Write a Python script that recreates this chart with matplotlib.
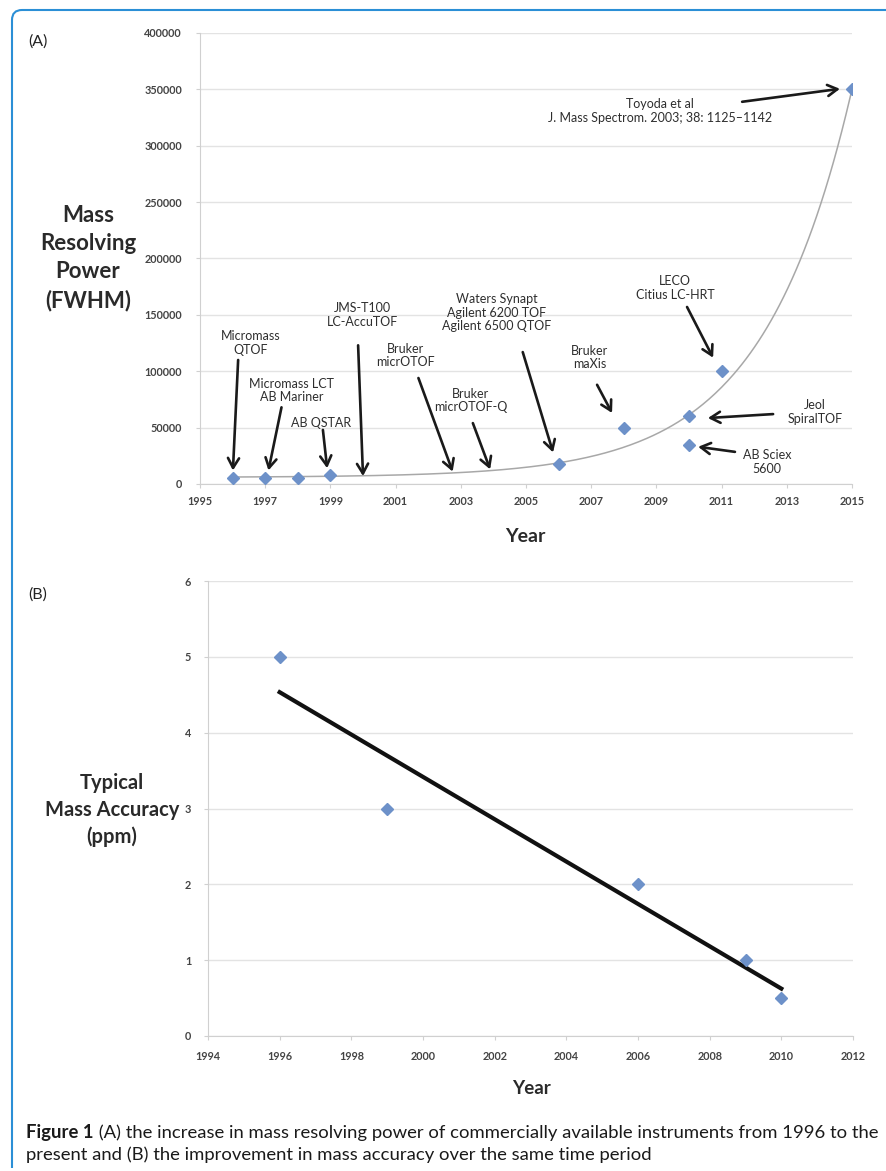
import numpy as np
import matplotlib.pyplot as plt
from matplotlib.path import Path
from matplotlib.patches import PathPatch

plt.rcParams['font.family'] = ['Lato', 'DejaVu Sans']

# panel A: mass resolving power (FWHM) by year
years_a = [1996, 1997, 1998, 1999, 2006, 2008, 2010, 2010, 2011, 2015]
power_a = [5000, 5000, 5000, 8000, 18000, 50000, 60000, 35000, 100000, 350000]

# panel B: typical mass accuracy (ppm) by year
years_b = [1996, 1999, 2006, 2009, 2010]
accuracy_b = [5, 3, 2, 1, 0.5]

# instrument labels: text, text centre, arrow tail, arrow head (data coords)
labels_a = [
    ("Micromass\nQTOF", (1996.55, 125000), (1996.17, 110000), (1996.01, 12000)),
    ("Micromass LCT\nAB Mariner", (1997.8, 83000), (1997.5, 68000), (1997.1, 12000)),
    ("AB QSTAR", (1998.7, 54000), (1998.77, 48000), (1998.9, 14000)),
    ("JMS-T100\nLC-AccuTOF", (1999.97, 150000), (1999.85, 123000), (2000.0, 7000)),
    ("Bruker\nmicrOTOF", (2001.3, 114000), (2001.7, 94000), (2002.75, 11000)),
    ("Bruker\nmicrOTOF-Q", (2003.3, 74000), (2003.37, 54000), (2003.9, 13000)),
    ("Waters Synapt\nAgilent 6200 TOF\nAgilent 6500 QTOF", (2004.1, 152000), (2004.9, 117000), (2005.83, 28000)),
    ("Bruker\nmaXis", (2006.95, 112000), (2007.18, 88000), (2007.64, 63000)),
    ("LECO\nCitius LC-HRT", (2009.57, 174000), (2009.94, 157000), (2010.74, 112000)),
    ("Jeol\nSpiralTOF", (2013.87, 64000), (2012.58, 62000), (2010.58, 58500)),
    ("AB Sciex\n5600", (2012.4, 19500), (2011.41, 28500), (2010.28, 33000)),
    ("Toyoda et al\nJ. Mass Spectrom. 2003; 38: 1125\u20131142", (2009.1, 331000), (2011.63, 339000), (2014.63, 350500)),
]

W, H = 886, 1171
fig = plt.figure(figsize=(W / 100, H / 100), dpi=100)

marker_col = '#6d91c9'
grid_col = '#e3e3e3'
tick_col = '#444444'
label_col = '#2a2a2a'


def style_axes(ax):
    for s in ['top', 'right']:
        ax.spines[s].set_visible(False)
    for s in ['left', 'bottom']:
        ax.spines[s].set_color('#d0d0d0')
    ax.grid(axis='y', color=grid_col, linewidth=1)
    ax.set_axisbelow(True)
    ax.tick_params(axis='both', colors='#d0d0d0', labelcolor=tick_col, labelsize=7.8, length=3)
    for t in ax.get_xticklabels() + ax.get_yticklabels():
        t.set_fontweight('bold')


# ---- panel A ----
ax1 = fig.add_axes([200 / W, 1 - 484 / H, 652 / W, 451 / H])
ax1.set_xlim(1995, 2015)
ax1.set_ylim(0, 400000)
ax1.set_xticks(range(1995, 2016, 2))
ax1.set_yticks(range(0, 400001, 50000))
ax1.tick_params(axis='y', pad=10, length=0)
ax1.tick_params(axis='x', pad=6)
style_axes(ax1)

# growth trend: least-squares fit of a + b*exp(k*t), k picked on a grid
xa = np.array(years_a, dtype=float)
ya = np.array(power_a, dtype=float)
ta = xa - 2005
best = None
for k in np.linspace(0.05, 0.6, 551):
    A = np.column_stack([np.ones_like(ta), np.exp(k * ta)])
    sol, res, _, _ = np.linalg.lstsq(A, ya, rcond=None)
    err = np.sum((A @ sol - ya) ** 2)
    if best is None or err < best[0]:
        best = (err, k, sol)
_, k_fit, (a_fit, b_fit) = best
xs = np.linspace(1996, 2015, 300)
ax1.plot(xs, a_fit + b_fit * np.exp(k_fit * (xs - 2005)), color='#a8a8a8', linewidth=1.1, zorder=2)
ax1.plot(years_a, power_a, 'D', color=marker_col, markersize=6, zorder=3)

for txt, pos, tail, head in labels_a:
    ax1.text(pos[0], pos[1], txt, ha='center', va='center', fontsize=9,
             color='#2e2e2e', linespacing=1.15)
    ax1.annotate('', xy=head, xytext=tail,
                 arrowprops=dict(arrowstyle='->,head_length=0.7,head_width=0.4',
                                 color='#1a1a1a', lw=1.9, shrinkA=0, shrinkB=0))

fig.text(28 / W, 1 - 42 / H, '(A)', fontsize=11.5, ha='left', va='center', color='#222222')
fig.text(88 / W, 1 - 258 / H, 'Mass\nResolving\nPower\n(FWHM)', fontsize=16, fontweight='bold',
         ha='center', va='center', color=label_col, linespacing=1.42)
fig.text(525 / W, 1 - 536 / H, 'Year', fontsize=14, fontweight='bold',
         ha='center', va='center', color=label_col)

# ---- panel B ----
ax2 = fig.add_axes([208 / W, 1 - 1036 / H, 645 / W, 455 / H])
ax2.set_xlim(1994, 2012)
ax2.set_ylim(0, 6)
ax2.set_xticks(range(1994, 2013, 2))
ax2.set_yticks(range(0, 7))
ax2.tick_params(axis='y', pad=9, length=0)
ax2.tick_params(axis='x', pad=8)
style_axes(ax2)

xb = np.array(years_b, dtype=float)
yb = np.array(accuracy_b, dtype=float)
m, c = np.polyfit(xb, yb, 1)
xl = np.array([xb.min(), xb.max()])
ax2.plot(xl, m * xl + c, color='#111111', linewidth=3, zorder=2)
ax2.plot(years_b, accuracy_b, 'D', color=marker_col, markersize=6, zorder=3)

fig.text(28 / W, 1 - 595 / H, '(B)', fontsize=11.5, ha='left', va='center', color='#222222')
fig.text(112 / W, 1 - 810 / H, 'Typical\nMass Accuracy\n(ppm)', fontsize=14.5, fontweight='bold',
         ha='center', va='center', color=label_col, linespacing=1.42)
fig.text(531 / W, 1 - 1088 / H, 'Year', fontsize=13.5, fontweight='bold',
         ha='center', va='center', color=label_col)

# ---- caption ----
cap_size = 13.3
cap1 = fig.text(26 / W, 1 - 1138 / H, 'Figure 1', fontsize=cap_size, fontweight='bold',
                ha='left', va='baseline', color='#1a1a1a')
ax1.annotate(' (A) the increase in mass resolving power of commercially available instruments from 1996 to the',
             xy=(1, 0), xycoords=cap1, va='bottom', ha='left', fontsize=cap_size, color='#1a1a1a',
             annotation_clip=False)
fig.text(26 / W, 1 - 1160 / H, 'present and (B) the improvement in mass accuracy over the same time period',
         fontsize=cap_size, ha='left', va='baseline', color='#1a1a1a')

# ---- blue frame (left and top edges, rounded corner) ----
r = 10
verts = [(12, H - 1168), (12, H - 10 - r), (12, H - 10), (12 + r, H - 10), (W + 5, H - 10)]
codes = [Path.MOVETO, Path.LINETO, Path.CURVE3, Path.CURVE3, Path.LINETO]
verts = [(vx / 100, vy / 100) for vx, vy in verts]
frame = PathPatch(Path(verts, codes), fill=False, edgecolor='#2b8fd6', linewidth=1.5,
                  transform=fig.dpi_scale_trans)
fig.add_artist(frame)

fig.savefig('out.png', dpi=100)
